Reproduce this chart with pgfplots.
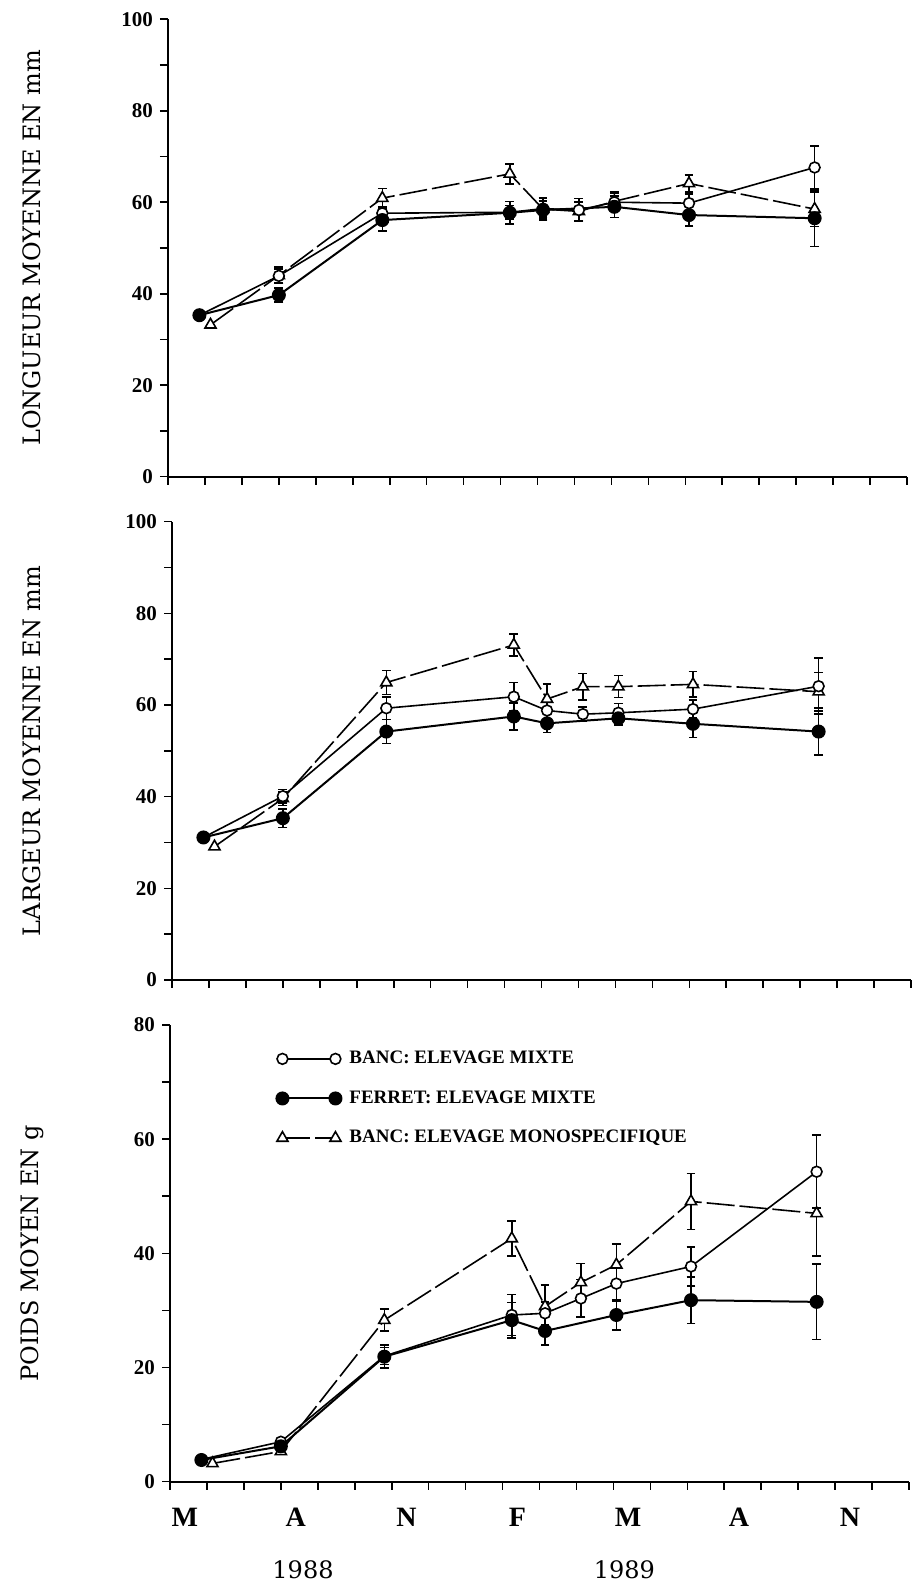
\documentclass[border=0pt]{standalone}
\usepackage{pgfplots}
\pgfplotsset{compat=1.18}
\usepackage{fontspec}
\setmainfont{Liberation Serif}
\newfontfamily\dvs{DejaVu Serif}
\begin{document}
\begin{tikzpicture}
\useasboundingbox (0,0) rectangle (456.5pt,791pt);
\pgfplotsset{
  panel/.style={
    scale only axis, width=369.5pt,
    xmin=0, xmax=20,
    axis x line*=bottom, axis y line*=left,
    axis line style={-, line width=0.9pt},
    xtick={0,...,20}, xticklabels={},
    tick align=outside, major tick length=4pt, minor tick length=4pt,
    every tick/.style={line width=0.8pt, black},
    minor y tick num=1,
    yticklabel style={font=\bfseries\fontsize{10.5}{12}\selectfont},
    /pgf/number format/assume math mode=true,
    ylabel style={at={(axis description cs:-0.184,0.5)}, anchor=center, font=\dvs\fontsize{12}{14}\selectfont},
    clip=false,
    error bars/y dir=both, error bars/y explicit,
    error bars/error bar style={line width=0.8pt, solid, black},
    error bars/error mark options={rotate=90, mark size=2.2pt, line width=0.8pt, solid},
  },
  lO/.style={black, line width=0.8pt, mark=*, mark size=2.7pt, mark options={solid, fill=white, line width=0.8pt}},
  lF/.style={black, line width=1pt, mark=*, mark size=3pt, mark options={solid, fill=black}},
  lT/.style={black, line width=0.8pt, dash pattern=on 14pt off 2.5pt, mark=triangle*, mark size=3.2pt, mark options={solid, fill=white, line width=0.8pt}},
}
% ---------------- Panel 1
\begin{axis}[panel, at={(84pt,552.65pt)}, height=228.7pt, ymin=0, ymax=100, ytick={0,20,...,100},
  ylabel={LONGUEUR MOYENNE EN mm}]
\addplot[lT] coordinates {(1.15,33.2)+-(0,0) (3.0,44.0)+-(0,1.8) (5.8,60.9)+-(0,2.1) (9.25,66.2)+-(0,2.2) (10.15,58.5)+-(0,2.4) (11.12,58.0)+-(0,2) (12.08,60.2)+-(0,2) (14.1,64.1)+-(0,1.9) (17.5,58.5)+-(0,3.8)};
\addplot[lO] coordinates {(0.85,35.3)+-(0,0) (3.0,43.9)+-(0,1.5) (5.8,57.6)+-(0,1.5) (9.25,57.8)+-(0,1.5) (10.15,58.6)+-(0,1.8) (11.12,58.3)+-(0,2.5) (12.08,60.0)+-(0,2) (14.1,59.8)+-(0,2) (17.5,67.6)+-(0,4.7)};
\addplot[lF] coordinates {(0.85,35.3)+-(0,0) (3.0,39.7)+-(0,1.5) (5.8,56.1)+-(0,2.4) (9.25,57.7)+-(0,2.5) (10.15,58.3)+-(0,2) (12.08,59.0)+-(0,2.3) (14.1,57.2)+-(0,2.4) (17.5,56.5)+-(0,6.2)};
\end{axis}
% ---------------- Panel 2
\begin{axis}[panel, at={(86pt,301pt)}, height=229.15pt, ymin=0, ymax=100, ytick={0,20,...,100},
  ylabel style={at={(axis description cs:-0.19,0.5)}},
  ylabel={LARGEUR MOYENNE EN mm}]
\addplot[lT] coordinates {(1.15,29.1)+-(0,0) (3.0,39.6)+-(0,1.5) (5.8,64.9)+-(0,2.6) (9.25,73.1)+-(0,2.4) (10.15,61.3)+-(0,3.3) (11.12,64.0)+-(0,2.9) (12.08,64.0)+-(0,2.4) (14.1,64.5)+-(0,2.8) (17.5,62.9)+-(0,4.2)};
\addplot[lO] coordinates {(0.85,31.1)+-(0,0) (3.0,40.1)+-(0,1.5) (5.8,59.3)+-(0,2.5) (9.25,61.8)+-(0,3.1) (10.15,58.8)+-(0,2) (11.12,58.0)+-(0,1.5) (12.08,58.3)+-(0,2) (14.1,59.1)+-(0,2) (17.5,64.1)+-(0,6.1)};
\addplot[lF] coordinates {(0.85,31.1)+-(0,0) (3.0,35.3)+-(0,2) (5.8,54.2)+-(0,2.6) (9.25,57.5)+-(0,3) (10.15,56.0)+-(0,2) (12.08,57.1)+-(0,1.5) (14.1,55.9)+-(0,3) (17.5,54.2)+-(0,5.1)};
\end{axis}
% ---------------- Panel 3
\begin{axis}[panel, at={(85pt,50.15pt)}, height=228.35pt, ymin=0, ymax=80, ytick={0,20,...,80},
  ylabel style={at={(axis description cs:-0.187,0.5)}},
  ylabel={POIDS MOYEN EN g},
  legend image code/.code={\draw[#1] plot coordinates {(0pt,0pt) (26.5pt,0pt)};},
  legend style={draw=none, fill=none, inner sep=0pt, at={(axis cs:2.87,76.2)}, anchor=north west,
    font=\bfseries\fontsize{9.5}{11.5}\selectfont, row sep=8pt, cells={anchor=west}},
  legend cell align=left]
\addlegendimage{lO}\addlegendentry{\hspace{2pt}BANC: ELEVAGE MIXTE}
\addlegendimage{lF}\addlegendentry{\hspace{2pt}FERRET: ELEVAGE MIXTE}
\addlegendimage{lT}\addlegendentry{\hspace{2pt}BANC: ELEVAGE MONOSPECIFIQUE}
\addplot[lT, forget plot] coordinates {(1.15,3.2)+-(0,0) (3.0,5.3)+-(0,0) (5.8,28.3)+-(0,1.9) (9.25,42.6)+-(0,3.1) (10.15,30.7)+-(0,3.8) (11.12,34.9)+-(0,3.3) (12.08,38.0)+-(0,3.6) (14.1,49.1)+-(0,4.9) (17.5,47.0)+-(0,7.5)};
\addplot[lO, forget plot] coordinates {(0.85,3.9)+-(0,0) (3.0,7.0)+-(0,0) (5.8,22.0)+-(0,1.5) (9.25,29.2)+-(0,3.6) (10.15,29.5)+-(0,2) (11.12,32.1)+-(0,3.3) (12.08,34.7)+-(0,3) (14.1,37.7)+-(0,3.4) (17.5,54.3)+-(0,6.4)};
\addplot[lF, forget plot] coordinates {(0.85,3.8)+-(0,0) (3.0,6.2)+-(0,0) (5.8,21.9)+-(0,2) (9.25,28.3)+-(0,3.1) (10.15,26.4)+-(0,2.5) (12.08,29.2)+-(0,2.6) (14.1,31.8)+-(0,4.1) (17.5,31.5)+-(0,6.6)};
\foreach \xx/\mm in {0.4/M,3.4/A,6.4/N,9.4/F,12.4/M,15.4/A,18.4/N}{
  \edef\tmp{\noexpand\node[anchor=base, yshift=-22.25pt, font=\noexpand\bfseries\noexpand\fontsize{14}{16}\noexpand\selectfont] at (axis cs:\xx,0) {\mm};}\tmp
}
\node[anchor=base, yshift=-48.2pt, font=\dvs\fontsize{12}{14}\selectfont] at (axis cs:3.6,0) {1988};
\node[anchor=base, yshift=-48.2pt, font=\dvs\fontsize{12}{14}\selectfont] at (axis cs:12.3,0) {1989};
\end{axis}
\end{tikzpicture}
\end{document}
